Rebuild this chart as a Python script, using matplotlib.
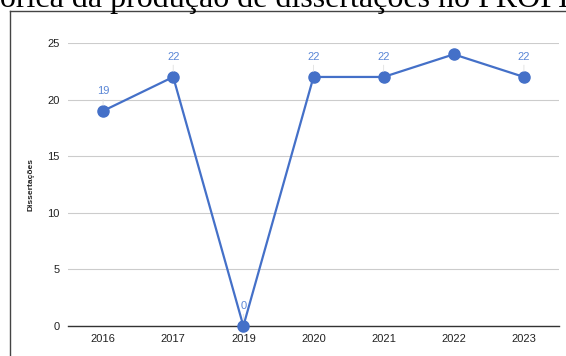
import matplotlib.pyplot as plt

anos = ["2016", "2017", "2019", "2020", "2021", "2022", "2023"]
dissertacoes = [19, 22, 0, 22, 22, 24, 22]
rotulos = ["19", "22", "0", "22", "22", "", "22"]
y_ticks = [0, 5, 10, 15, 20, 25]

titulo_antes = "Série histórica da "
titulo_meio = "produção de dissertações no "
titulo_fim = "PROFIAP"


def largura_texto(fig, r, s, **kw):
    t = fig.text(0, 0, s, **kw)
    w = t.get_window_extent(r).width
    t.remove()
    return w


def graph():
    plt.rcParams["font.family"] = ["Liberation Sans", "DejaVu Sans"]
    fig = plt.figure(figsize=(5.66, 3.56), dpi=100)
    W, H = 566, 356
    r = fig.canvas.get_renderer()

    # page title, cut off by the top edge; "produção" starts at x=110
    # and "PROFIAP" at x=477
    serif = dict(family=["Liberation Serif"], fontsize=22, color="black",
                 va="baseline")
    serif["fontsize"] *= 367 / largura_texto(fig, r, titulo_meio, **serif)
    inicio = 110 - largura_texto(fig, r, titulo_antes, **serif)
    fig.text(inicio / W, 1 - 7.5 / H, titulo_antes + titulo_meio + titulo_fim,
             ha="left", **serif)

    # box around the chart
    fig.add_artist(plt.Line2D([9.5 / W, 1], [1 - 11 / H, 1 - 11 / H],
                              color="#444444", lw=1.0))
    fig.add_artist(plt.Line2D([9.5 / W, 9.5 / W], [0, 1 - 11 / H],
                              color="#444444", lw=1.0))

    ax = fig.add_axes([68 / W, 1 - 326 / H, 491 / W, 283 / H])
    x = list(range(len(anos)))
    ax.plot(x, dissertacoes, color="#4470c8", lw=1.6, marker="o",
            markersize=8, clip_on=False, zorder=3)

    for xi, v, t in zip(x, dissertacoes, rotulos):
        if not t:
            continue
        ax.annotate(t, (xi, v), xytext=(0, 10.5), textcoords="offset points",
                    ha="center", va="bottom", fontsize=8, color="#5a86d6",
                    arrowprops=dict(arrowstyle="-", color="#e0e0e0", lw=0.6,
                                    shrinkA=0, shrinkB=4))

    ax.set_xlim(-0.5, len(anos) - 0.5)
    ax.set_ylim(0, 25)
    ax.set_xticks(x)
    ax.set_xticklabels(anos)
    ax.set_yticks(y_ticks)
    ax.tick_params(length=0, labelsize=8, colors="#222222")
    ax.tick_params(axis="x", pad=6)
    ax.tick_params(axis="y", pad=6)
    ax.grid(axis="y", color="#cccccc", lw=0.8)
    ax.set_axisbelow(True)
    for s in ["top", "right", "left"]:
        ax.spines[s].set_visible(False)
    ax.spines["bottom"].set_color("#333333")
    ax.spines["bottom"].set_linewidth(1.0)

    ax.set_ylabel("Dissertações", fontsize=6, fontweight="bold",
                  color="#222222", labelpad=9)

    fig.savefig("out.png", dpi=100)


if __name__ == "__main__":
    graph()
